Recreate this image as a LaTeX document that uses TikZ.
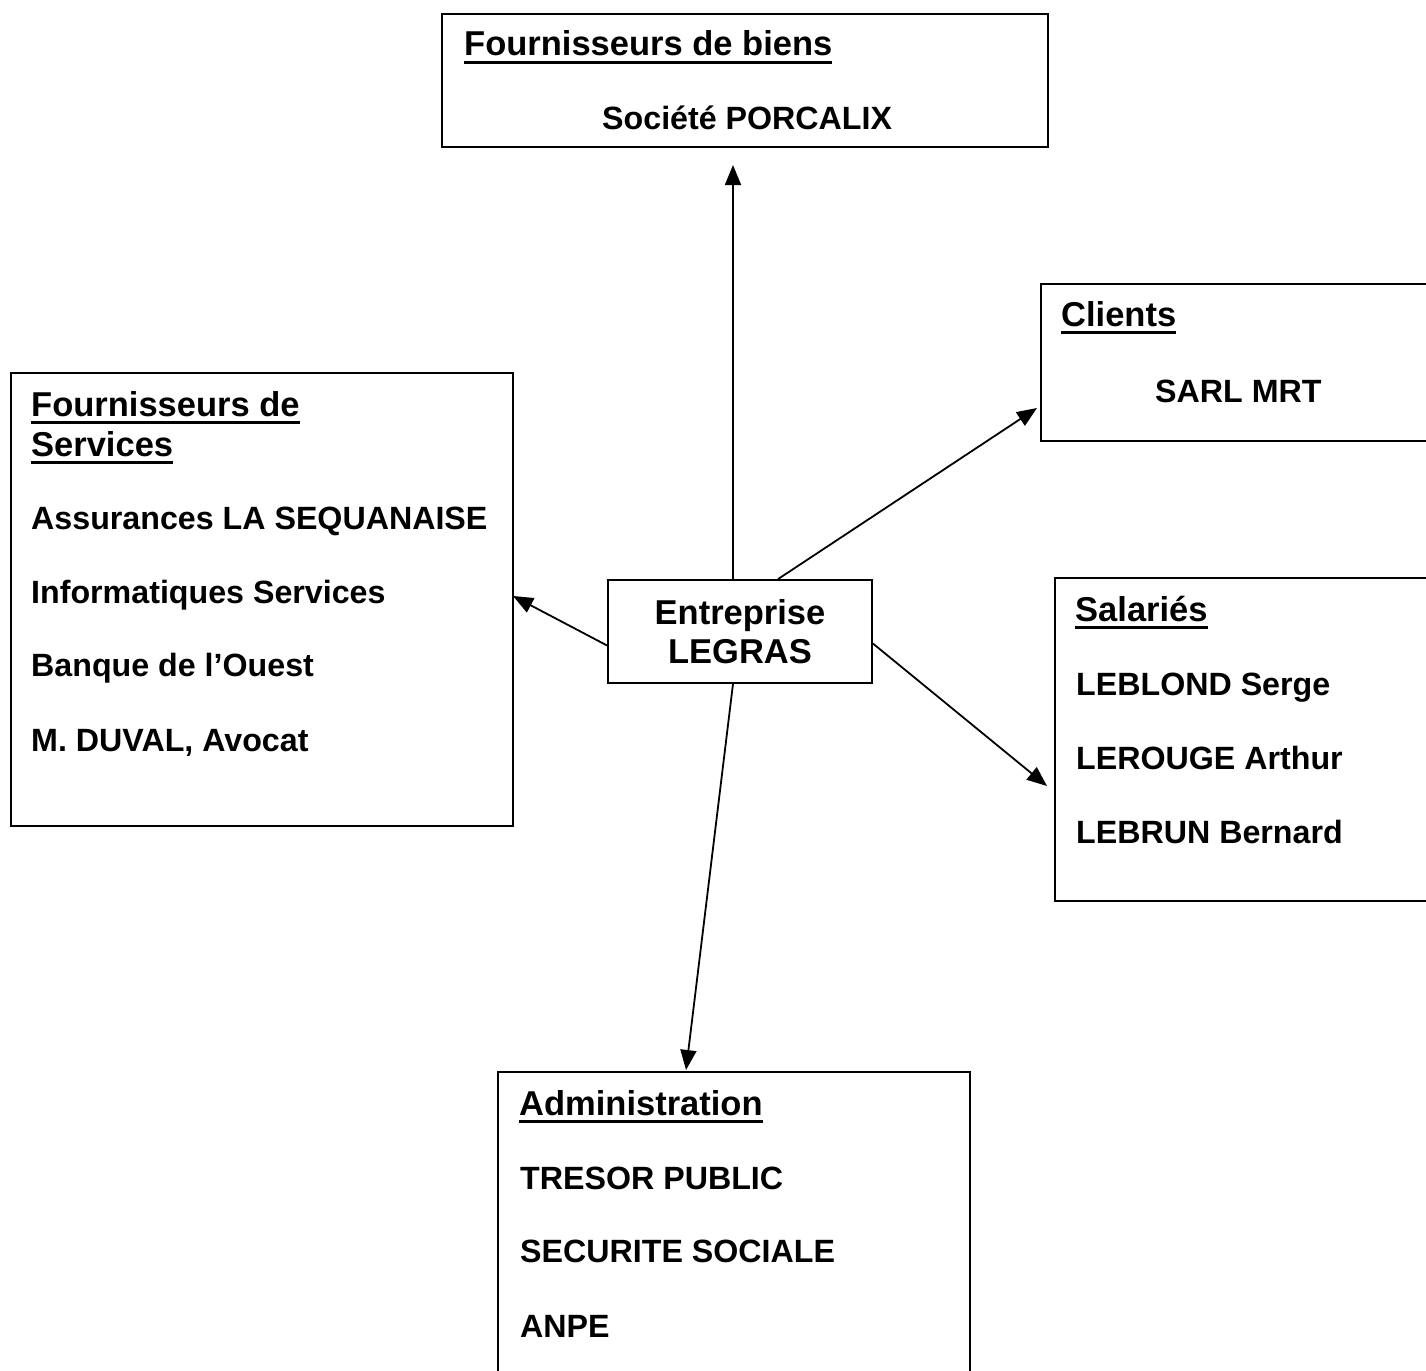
\documentclass[tikz,border=0pt]{standalone}
\usepackage{fontspec}
\setmainfont{Liberation Sans}
\newcommand{\ulbox}[1]{\setbox0\hbox{#1}\rlap{\rule[-8pt]{\wd0}{2.6pt}}\box0}
\usetikzlibrary{arrows.meta}
\tikzset{
  box/.style={draw,line width=1.8pt},
  txt/.style={anchor=base west,inner sep=0pt,font=\bfseries\fontsize{32.2}{40}\selectfont},
  head/.style={txt,font=\bfseries\fontsize{34.5}{40}\selectfont},
  link/.style={line width=1.8pt,-{Triangle[length=20pt,width=16pt]}}
}
\begin{document}
\begin{tikzpicture}[x=1pt,y=-1pt]
        \useasboundingbox (0,0) rectangle (1426,1370);
        \node[box,minimum width=606pt,minimum height=133pt] (biens) at (745,80.5) {};
        \node[box,minimum width=399pt,minimum height=157pt] (clients) at (1240.5,362.5) {};
        \node[box,minimum width=502pt,minimum height=453pt] (serv) at (262,599.5) {};
        \node[box,minimum width=385pt,minimum height=323pt] (sal) at (1247.5,739.5) {};
        \node[box,minimum width=472pt,minimum height=310pt] (admin) at (734,1227) {};
        \node[box,minimum width=264pt,minimum height=103pt,align=center,inner sep=0pt,
              font=\bfseries\fontsize{34.5}{39}\selectfont] (ent) at (740,631.5) {Entreprise\\LEGRAS};
        \node[head] (tb) at (464,56) {\ulbox{Fournisseurs de biens}};
        \node[txt] (b1) at (602,130) {Société PORCALIX};
        \node[head] (tc) at (1061,326) {\ulbox{Clients}};
        \node[txt] (c1) at (1155,402) {SARL MRT};
        \node[head] (ts1) at (31,416) {\ulbox{Fournisseurs de}};
        \node[head] (ts2) at (31,456) {\ulbox{Services}};
        \node[txt] (s1) at (31,529) {Assurances LA SEQUANAISE};
        \node[txt] (s2) at (31,603) {Informatiques Services};
        \node[txt] (s3) at (31,676) {Banque de l’Ouest};
        \node[txt] (s4) at (31,751) {M. DUVAL, Avocat};
        \node[head] (tsal) at (1075,621) {\ulbox{Salariés}};
        \node[txt] (e1) at (1076,695) {LEBLOND Serge};
        \node[txt] (e2) at (1076,769) {LEROUGE Arthur};
        \node[txt] (e3) at (1076,843) {LEBRUN Bernard};
        \node[head] (ta) at (519,1115) {\ulbox{Administration}};
        \node[txt] (a1) at (520,1189) {TRESOR PUBLIC};
        \node[txt] (a2) at (520,1262) {SECURITE SOCIALE};
        \node[txt] (a3) at (520,1337) {ANPE};
        \coordinate (pb) at (733,165);
        \coordinate (pc) at (1037,408);
        \coordinate (ps) at (513,596);
        \coordinate (pe) at (1047,786);
        \coordinate (pa) at (686,1070);
        \draw[link] (ent.north -| pb) -- (pb);
        \draw[link] ([xshift=38pt]ent.north) -- (pc);
        \draw[link] ([yshift=-14pt]ent.west) -- (ps);
        \draw[link] ([yshift=-12pt]ent.east) -- (pe);
        \draw[link] (ent.south -| pb) -- (pa);
\end{tikzpicture}
\end{document}
